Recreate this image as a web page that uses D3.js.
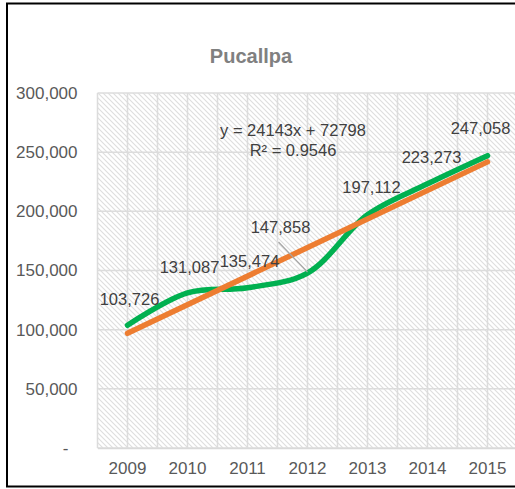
<!DOCTYPE html>
<html>
<head>
<meta charset="utf-8">
<script src="https://cdn.jsdelivr.net/npm/d3@7"></script>
<style>
  html, body { margin: 0; padding: 0; background: #fff; }
  svg { display: block; font-family: "Liberation Sans", Arial, sans-serif; }
</style>
</head>
<body>
<svg id="chart" width="515" height="489"></svg>
<script>
// ---- data ----
const years = ["2009", "2010", "2011", "2012", "2013", "2014", "2015"];
const values = [103726, 131087, 135474, 147858, 197112, 223273, 247058];
const yTicks = [0, 50000, 100000, 150000, 200000, 250000, 300000];
const title = "Pucallpa";
// linear trendline as printed on the chart (x = 1..7)
const trendSlope = 24143;
const trendIntercept = 72798;
const trendR2 = 0.9546;

// ---- layout ----
const plot = { left: 97.5, top: 93, right: 517.5, bottom: 448 };

const svg = d3.select("#chart");

// hatch pattern
const defs = svg.append("defs");
const pat = defs.append("pattern")
  .attr("id", "hatch").attr("patternUnits", "userSpaceOnUse")
  .attr("width", 5).attr("height", 5);
pat.append("rect").attr("width", 5).attr("height", 5).attr("fill", "#fff");
pat.append("path")
  .attr("d", "M-1,-1 L6,6 M-1,4 L1,6 M4,-1 L6,1")
  .attr("stroke", "#dedede").attr("stroke-width", 1.1);

// scales
const x = d3.scaleBand().domain(years).range([plot.left, plot.right]).padding(0);
const y = d3.scaleLinear().domain([0, 300000]).range([plot.bottom, plot.top]);
const cx = d => x(d) + x.bandwidth() / 2;

// plot background
svg.append("rect")
  .attr("x", plot.left).attr("y", plot.top)
  .attr("width", plot.right - plot.left).attr("height", plot.bottom - plot.top)
  .attr("fill", "url(#hatch)");

// vertical gridlines (band edges and centres)
const vLines = [];
years.forEach(d => { vLines.push(x(d)); vLines.push(cx(d)); });
svg.append("g").selectAll("line").data(vLines).join("line")
  .attr("x1", d => d).attr("x2", d => d)
  .attr("y1", plot.top).attr("y2", plot.bottom)
  .attr("stroke", "#dcdcdc").attr("stroke-width", 1.5);

// horizontal gridlines
svg.append("g").selectAll("line").data(yTicks).join("line")
  .attr("x1", plot.left).attr("x2", plot.right)
  .attr("y1", d => y(d)).attr("y2", d => y(d))
  .attr("stroke", "#dcdcdc").attr("stroke-width", 1.5);

// y axis labels
const yAxis = d3.axisLeft(y).tickValues(yTicks).tickSize(0).tickPadding(20)
  .tickFormat(d => d === 0 ? "-" : d3.format(",")(d));
const gy = svg.append("g").attr("transform", `translate(${plot.left},0)`).call(yAxis);
gy.select(".domain").remove();
gy.selectAll("text").attr("fill", "#595959").attr("font-size", 17)
  .attr("font-family", "Liberation Sans, Arial, sans-serif");
gy.selectAll(".tick").filter(d => d === 0).select("text").attr("dx", -9);

// x axis
const xAxis = d3.axisBottom(x).tickSize(0).tickPadding(14);
const gx = svg.append("g").attr("transform", `translate(0,${plot.bottom})`).call(xAxis);
gx.select(".domain").attr("stroke", "#d9d9d9").attr("stroke-width", 1.5);
gx.selectAll("text").attr("fill", "#595959").attr("font-size", 17)
  .attr("font-family", "Liberation Sans, Arial, sans-serif");

// data line (smoothed)
const pts = years.map((d, i) => [cx(d), y(values[i])]);
svg.append("path")
  .attr("d", d3.line().curve(d3.curveCatmullRom.alpha(0.5))(pts))
  .attr("fill", "none").attr("stroke", "#00b050")
  .attr("stroke-width", 5.5).attr("stroke-linecap", "round");

// linear trendline
const n = years.length;
const trendAt = i => trendSlope * (i + 1) + trendIntercept;
svg.append("path")
  .attr("d", d3.line()([[cx(years[0]), y(trendAt(0))], [cx(years[n - 1]), y(trendAt(n - 1))]]))
  .attr("fill", "none").attr("stroke", "#ed7d31")
  .attr("stroke-width", 5.5).attr("stroke-linecap", "round");

// data labels
const labelOffsets = [
  { dx: 2, dy: -26 }, { dx: 2, dy: -26 }, { dx: 2, dy: -26 },
  { dx: -27, dy: -46 }, { dx: 4, dy: -28 }, { dx: 4, dy: -27 }, { dx: -7, dy: -27 }
];
// leader line for the shifted label
{
  const i = 3;
  const px = cx(years[i]), py = y(values[i]);
  svg.append("line")
    .attr("x1", px - 29).attr("y1", py - 31)
    .attr("x2", px).attr("y2", py - 1)
    .attr("stroke", "#a6a6a6").attr("stroke-width", 1.2);
}
svg.append("g").selectAll("text").data(values).join("text")
  .attr("x", (d, i) => cx(years[i]) + labelOffsets[i].dx)
  .attr("y", (d, i) => y(d) + labelOffsets[i].dy)
  .attr("dy", "0.35em")
  .attr("text-anchor", "middle")
  .attr("fill", "#404040").attr("font-size", 16.5)
  .text(d => d3.format(",")(d));

// trendline equation
const eq = svg.append("text").attr("text-anchor", "middle")
  .attr("fill", "#404040").attr("font-size", 16.5);
eq.append("tspan").attr("x", 293).attr("y", 130).attr("dy", "0.35em")
  .text(`y = ${trendSlope}x + ${trendIntercept}`);
eq.append("tspan").attr("x", 293).attr("y", 150).attr("dy", "0.35em")
  .text(`R² = ${trendR2.toFixed(4)}`);

// title
svg.append("text").attr("x", 251).attr("y", 56).attr("dy", "0.35em")
  .attr("text-anchor", "middle").attr("font-weight", "bold")
  .attr("font-size", 20).attr("fill", "#808080").text(title);

// outer border
svg.append("rect").attr("x", 7).attr("y", 3.5)
  .attr("width", 520).attr("height", 483)
  .attr("fill", "none").attr("stroke", "#000").attr("stroke-width", 2);
</script>
</body>
</html>
